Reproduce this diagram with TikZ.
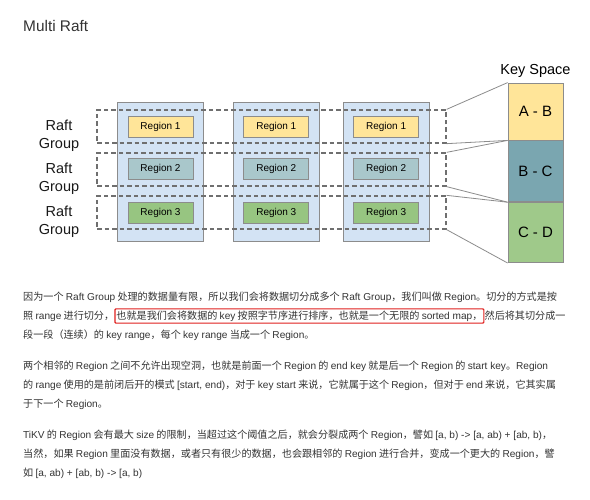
\documentclass[tikz,border=0pt]{standalone}
\usepackage{fontspec}
\setmainfont{Liberation Sans}
\newfontfamily\cjk{Noto Sans CJK SC}
\newfontfamily\latfont{Liberation Sans}
\newcommand{\lat}[1]{{\latfont #1}}
\usetikzlibrary{positioning}
\definecolor{colblue}{HTML}{D3E3F4}
\definecolor{regyellow}{HTML}{FFE599}
\definecolor{regteal}{HTML}{A9C7CB}
\definecolor{reggreen}{HTML}{97C581}
\definecolor{keyteal}{HTML}{7AA6B0}
\definecolor{keygreen}{HTML}{9FC98A}
\definecolor{edgegray}{HTML}{8C8C8C}
\definecolor{dashgray}{HTML}{6F6F6F}
\definecolor{txtgray}{HTML}{333333}
\definecolor{markred}{HTML}{E0201E}

\begin{document}
\begin{tikzpicture}[
    x=1pt, y=-1pt,
    every node/.style={font=\fontsize{10}{12}\selectfont},
    column/.style={
      rectangle, draw=edgegray, fill=colblue, line width=0.8pt,
      minimum width=86pt, minimum height=139pt
    },
    region/.style={
      rectangle, draw=edgegray, line width=0.8pt,
      minimum width=65pt, minimum height=21pt, inner sep=0pt,
      font=\fontsize{10}{12}\selectfont
    },
    reg1/.style={region, fill=regyellow},
    reg2/.style={region, fill=regteal},
    reg3/.style={region, fill=reggreen},
    group/.style={
      rectangle, draw=dashgray, line width=1.3pt,
      dash pattern=on 4.5pt off 3pt,
      minimum width=349pt, minimum height=33pt
    },
    grouplabel/.style={align=center, inner sep=0pt,
      font=\fontsize{14.5}{18}\selectfont, text=black!90},
    keyseg/.style={
      rectangle, draw=edgegray, line width=0.8pt, minimum width=55pt,
      inner sep=0pt, font=\fontsize{15}{18}\selectfont
    },
    link/.style={draw=edgegray, line width=0.8pt},
    txt/.style={anchor=west, inner sep=0pt, text=txtgray,
      font=\cjk\fontsize{10.1}{13}\selectfont},
    markbox/.style={draw=markred, line width=1.2pt, rounded corners=1pt,
      inner xsep=1.5pt, inner ysep=1.8pt},
  ]

  \fill[white] (0,0) rectangle (590,500);
  \useasboundingbox (0,0) rectangle (590,500);

  % ============ Title ============
  \node[anchor=west, inner sep=0pt, text=txtgray,
        font=\fontsize{15.4}{18}\selectfont] (title) at (23,26) {Multi Raft};

  % ============ Columns (stores) ============
  \node[column] (col1) at (160.5,171.5) {};
  \node[column, right=29pt of col1] (col2) {};
  \node[column, right=23pt of col2] (col3) {};

  % ============ Raft groups (dashed) ============
  \node[group] (g1) at (271.5,126.5) {};
  \node[group] (g2) at (271.5,169.5) {};
  \node[group] (g3) at (271.5,212.5) {};

  % ============ Regions ============
  \node[reg1, below=14pt of col1.north] (r11) {Region 1};
  \node[reg2, below=21pt of r11]        (r12) {Region 2};
  \node[reg3, below=22pt of r12]        (r13) {Region 3};

  \node[reg1, below=14pt of col2.north] (r21) {Region 1};
  \node[reg2, below=21pt of r21]        (r22) {Region 2};
  \node[reg3, below=22pt of r22]        (r23) {Region 3};

  \node[reg1, below=14pt of col3.north] (r31) {Region 1};
  \node[reg2, below=21pt of r31]        (r32) {Region 2};
  \node[reg3, below=22pt of r32]        (r33) {Region 3};

  % ============ Group labels ============
  \node[grouplabel] (lab1) at (59,136) {Raft\\Group};
  \node[grouplabel] (lab2) at (59,179) {Raft\\Group};
  \node[grouplabel] (lab3) at (59,222) {Raft\\Group};

  % ============ Key space ============
  \node[keyseg, fill=regyellow, minimum height=57pt] (ab) at (535.5,111.5) {A - B};
  \node[keyseg, fill=keyteal, minimum height=61pt, below=0pt of ab] (bc) {B - C};
  \node[keyseg, fill=keygreen, minimum height=60pt, below=0pt of bc] (cd) {C - D};
  \node[above=5pt of ab, inner sep=0pt, font=\fontsize{14.5}{18}\selectfont]
    (kstitle) {Key Space};

  % ============ Links group -> key range ============
  \draw[link] (g1.north east) -- (ab.north west);
  \draw[link] (g1.south east) -- (ab.south west);
  \draw[link] (g2.north east) -- (bc.north west);
  \draw[link] (g2.south east) -- (bc.south west);
  \draw[link] (g3.north east) -- (cd.north west);
  \draw[link] (g3.south east) -- (cd.south west);

  % ============ Paragraph 1 ============
  \node[txt] (p1a) at (23,297) {因为一个 \lat{Raft Group} 处理的数据量有限，所以我们会将数据切分成多个 \lat{Raft Group}，我们叫做 \lat{Region}。切分的方式是按};
  \node[txt] (p1b) at (23,316) {照 \lat{range} 进行切分，};
  \node[txt, markbox, right=0pt of p1b] (p1mark)
    {也就是我们会将数据的 \lat{key} 按照字节序进行排序，也就是一个无限的 \lat{sorted map}，};
  \node[txt, right=0pt of p1mark] (p1c) {然后将其切分成一};
  \node[txt] (p1d) at (23,335) {段一段（连续）的 \lat{key range}，每个 \lat{key range} 当成一个 \lat{Region}。};

  % ============ Paragraph 2 ============
  \node[txt] (p2a) at (23,366) {两个相邻的 \lat{Region} 之间不允许出现空洞，也就是前面一个 \lat{Region} 的 \lat{end key} 就是后一个 \lat{Region} 的 \lat{start key}。\lat{Region}};
  \node[txt] (p2b) at (23,385) {的 \lat{range} 使用的是前闭后开的模式 \lat{[start, end)}，对于 \lat{key start} 来说，它就属于这个 \lat{Region}，但对于 \lat{end} 来说，它其实属};
  \node[txt] (p2c) at (23,404) {于下一个 \lat{Region}。};

  % ============ Paragraph 3 ============
  \node[txt] (p3a) at (23,435) {\lat{TiKV} 的 \lat{Region} 会有最大 \lat{size} 的限制，当超过这个阈值之后，就会分裂成两个 \lat{Region}，譬如 \lat{[a, b) -> [a, ab) + [ab, b)}，};
  \node[txt] (p3b) at (23,454) {当然，如果 \lat{Region} 里面没有数据，或者只有很少的数据，也会跟相邻的 \lat{Region} 进行合并，变成一个更大的 \lat{Region}，譬};
  \node[txt] (p3c) at (23,473) {如 \lat{[a, ab) + [ab, b) -> [a, b)}};

\end{tikzpicture}
\end{document}
